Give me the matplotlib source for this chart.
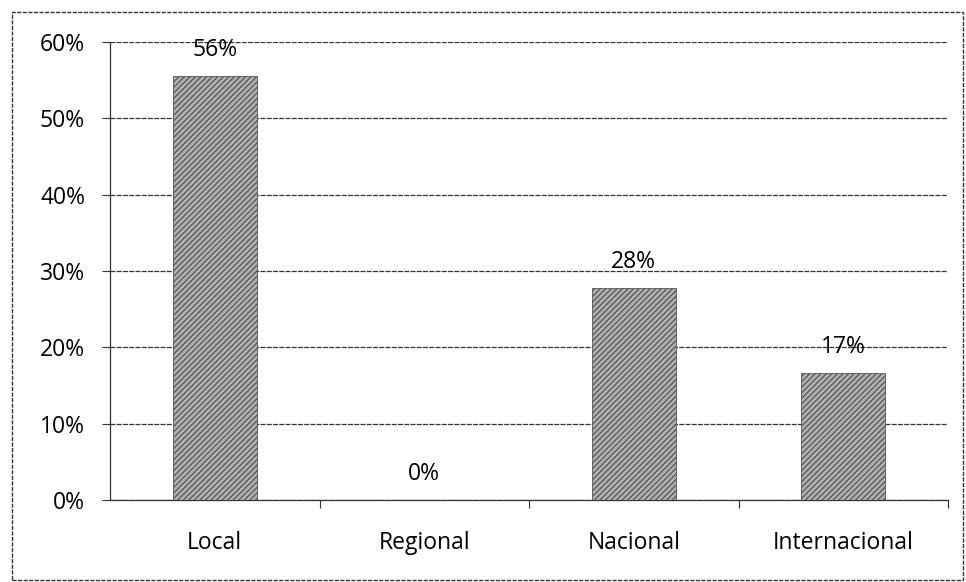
import matplotlib
matplotlib.use("Agg")
from matplotlib import pyplot as plt
from matplotlib.patches import Rectangle
from matplotlib.ticker import FixedLocator, PercentFormatter

# data
categories = ['Local', 'Regional', 'Nacional', 'Internacional']
values = [0.556, 0.0, 0.278, 0.167]
labels = ['56%', '0%', '28%', '17%']
yticks = [0, 0.1, 0.2, 0.3, 0.4, 0.5, 0.6]

plt.rcParams['font.family'] = ['Open Sans', 'DejaVu Sans']
plt.rcParams['hatch.linewidth'] = 0.9
plt.rcParams['hatch.color'] = '#555555'

fig = plt.figure(figsize=(9.66, 5.82), dpi=100)
ax = fig.add_axes([0.1139, 0.1409, 0.8675, 0.7869])

x = range(len(categories))
ax.bar(x, values, width=0.4, color='#b0b0b0', edgecolor='#555555',
       hatch='//////', linewidth=0.6, zorder=3)

fs = 16.5
for xi, v, lab in zip(x, values, labels):
    ax.annotate(lab, (xi, v), xytext=(0, 26), textcoords='offset pixels',
                ha='center', va='center', fontsize=fs, color='#000000', zorder=4)

ax.set_xlim(-0.5, 3.5)
ax.set_ylim(0, 0.6)
ax.set_yticks(yticks)
ax.yaxis.set_major_formatter(PercentFormatter(1.0, decimals=0))
ax.set_xticks(list(x))
ax.set_xticklabels(categories)
ax.xaxis.set_minor_locator(FixedLocator([0.5, 1.5, 2.5, 3.5]))
ax.tick_params(axis='x', which='major', length=0, pad=22, labelsize=fs,
               labelcolor='#000000')
ax.tick_params(axis='x', which='minor', length=6, width=0.8, color='#333333')
ax.tick_params(axis='y', length=6, width=0.8, color='#333333', pad=12,
               labelsize=fs, labelcolor='#000000')

ax.grid(axis='y', color='#333333', linewidth=0.9, linestyle=(0, (4, 1)), zorder=0)
for side in ['top', 'right']:
    ax.spines[side].set_visible(False)
for side in ['left', 'bottom']:
    ax.spines[side].set_color('#333333')
    ax.spines[side].set_linestyle((0, (4, 1)))
    ax.spines[side].set_linewidth(0.9)

# outer chart border
fig.patches.append(Rectangle((12 / 966, 2 / 582), 951 / 966, 568 / 582,
                             transform=fig.transFigure, fill=False,
                             edgecolor='#333333', linewidth=1.0,
                             linestyle=(0, (3, 1))))

fig.savefig('out.png', dpi=100)
